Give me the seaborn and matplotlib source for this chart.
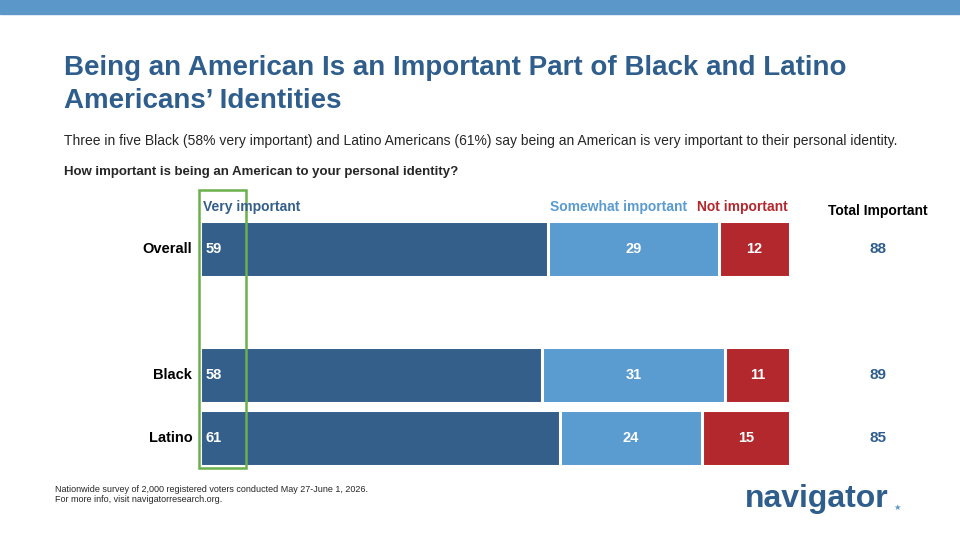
import matplotlib
matplotlib.use("Agg")
import matplotlib.pyplot as plt
import seaborn as sns
import pandas as pd
from matplotlib.patches import Rectangle
import matplotlib.transforms as mt

categories = ["Overall", "", "Black", "Latino"]
very = [59, None, 58, 61]
somewhat = [29, None, 31, 24]
notimp = [12, None, 11, 15]
total = [88, None, 89, 85]

DARK = "#345f8a"; LIGHT = "#5a9bd0"; RED = "#b3282d"; TITLE = "#2f5e8c"

sns.set_theme(style="white")
plt.rcParams['font.family'] = ['Liberation Sans', 'DejaVu Sans']
fig = plt.figure(figsize=(9.6, 5.4), dpi=100)
fig.patches.append(Rectangle((0, 1-14/540), 1, 14/540, transform=fig.transFigure, color="#5b97c9"))

ax = fig.add_axes([200/960, 1-466/540, 590/960, 245/540])
df = pd.DataFrame({"cat": categories,
                   "c3": [v+s+n if v is not None else float('nan') for v, s, n in zip(very, somewhat, notimp)],
                   "c2": [v+s if v is not None else float('nan') for v, s in zip(very, somewhat)],
                   "c1": [v if v is not None else float('nan') for v in very]})
for col, colr in [("c3", RED), ("c2", LIGHT), ("c1", DARK)]:
    sns.barplot(data=df, y="cat", x=col, order=categories, color=colr, width=0.9,
                edgecolor="white", linewidth=2.2, saturation=1, ax=ax, orient="h")
ax.set_xlim(0, 100)
ax.set_ylim(3.445, -0.445)
ax.axis("off")
for i, c in enumerate(categories):
    if very[i] is None:
        continue
    ax.text(-1.3, i, c, ha="right", va="center", fontsize=10.5, color="black", fontweight="semibold")
    ax.text(1, i, str(very[i]), ha="left", va="center", fontsize=10.5, color="white", fontweight="bold")
    ax.text(very[i]+somewhat[i]/2, i, str(somewhat[i]), ha="center", va="center", fontsize=10.5, color="white", fontweight="bold")
    ax.text(very[i]+somewhat[i]+notimp[i]/2, i, str(notimp[i]), ha="center", va="center", fontsize=10.5, color="white", fontweight="bold")
tr = mt.blended_transform_factory(fig.transFigure, ax.transData)
for i, t in enumerate(total):
    if t is not None:
        ax.text(878/960, i, str(t), transform=tr, ha="center", va="center", fontsize=11, color=TITLE, fontweight="bold")

fig.text(64/960, 1-68/540, "Being an American Is an Important Part of Black and Latino", fontsize=20, fontweight="bold", color=TITLE, va="center")
fig.text(64/960, 1-101/540, "Americans’ Identities", fontsize=20, fontweight="bold", color=TITLE, va="center")
fig.text(64/960, 1-141/540, "Three in five Black (58% very important) and Latino Americans (61%) say being an American is very important to their personal identity.", fontsize=10, va="center")
fig.text(64/960, 1-172/540, "How important is being an American to your personal identity?", fontsize=9.5, fontweight="bold", va="center")
fig.text(203/960, 1-207/540, "Very important", fontsize=10, fontweight="bold", color=DARK, va="center")
fig.text(619/960, 1-207/540, "Somewhat important", fontsize=10, fontweight="bold", color=LIGHT, ha="center", va="center")
fig.text(742/960, 1-207/540, "Not important", fontsize=10, fontweight="bold", color=RED, ha="center", va="center")
fig.text(878/960, 1-211/540, "Total Important", fontsize=10, fontweight="bold", color="black", ha="center", va="center")
fig.patches.append(Rectangle((199/960, 1-468/540), 47/960, 278/540, transform=fig.transFigure,
                             fill=False, edgecolor="#6ab04c", linewidth=1.8))
fig.text(55/960, 1-489/540, "Nationwide survey of 2,000 registered voters conducted May 27-June 1, 2026.", fontsize=6.5, va="center")
fig.text(55/960, 1-499/540, "For more info, visit navigatorresearch.org.", fontsize=6.5, va="center")
fig.text(745/960, 1-499/540, "navigator", fontsize=23, fontweight="bold", color=TITLE, va="center")
fig.text(893/960, 1-507/540, "★", fontsize=6, color="#5b97c9", va="center", family=["DejaVu Sans"])
fig.savefig("out.png", dpi=100)
